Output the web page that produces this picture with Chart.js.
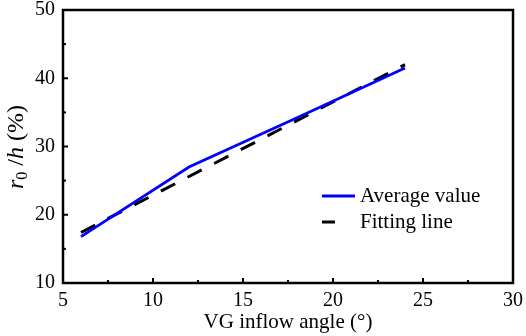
<!DOCTYPE html>
<html><head><meta charset="utf-8">
<script src="https://cdn.jsdelivr.net/npm/chart.js@4/dist/chart.umd.min.js"></script>
<style>html,body{margin:0;padding:0;background:#fff}#wrap{width:526px;height:336px}</style>
</head><body><div id="wrap"><canvas id="c" width="526" height="336"></canvas></div>
<script>
const angles = [6, 12, 18, 24];
const averageValue = [16.8, 27.0, 34.2, 41.5];
const fitAngles = [6, 24];
const fittingLine = [17.4, 42.0];
const xTicks = [5, 10, 15, 20, 25, 30];
const yTicks = [10, 20, 30, 40, 50];
const seriesLabels = ['Average value', 'Fitting line'];

const FONT = '"Liberation Serif", "Times New Roman", serif';

const decor = {
  id: 'decor',
  afterDatasetsDraw(chart) {
    const ctx = chart.ctx, a = chart.chartArea;
    const xs = chart.scales.x, ys = chart.scales.y;
    ctx.save();
    ctx.strokeStyle = '#000';
    ctx.lineWidth = 2.5;
    ctx.strokeRect(a.left, a.top, a.right - a.left, a.bottom - a.top);
    ctx.lineWidth = 2;
    for (let v = 5; v <= 30; v += 2.5) {
      const px = xs.getPixelForValue(v);
      const len = (v % 5 === 0) ? 5 : 3;
      ctx.beginPath(); ctx.moveTo(px, a.bottom); ctx.lineTo(px, a.bottom - len); ctx.stroke();
    }
    for (let v = 10; v <= 50; v += 5) {
      const py = ys.getPixelForValue(v);
      const len = (v % 10 === 0) ? 5 : 3;
      ctx.beginPath(); ctx.moveTo(a.left, py); ctx.lineTo(a.left + len, py); ctx.stroke();
    }
    const ds = chart.data.datasets;
    const lx = 322, rows = [196, 222];
    ds.forEach((d, i) => {
      const y = rows[i];
      ctx.strokeStyle = d.borderColor;
      ctx.lineWidth = 3;
      ctx.setLineDash([]);
      ctx.beginPath(); ctx.moveTo(lx, y); ctx.lineTo(i === 0 ? lx + 33 : lx + 13, y); ctx.stroke();
      ctx.fillStyle = '#000';
      ctx.font = '21px ' + FONT;
      ctx.textBaseline = 'middle';
      ctx.textAlign = 'left';
      ctx.fillText(d.label, 360, y);
    });
    ctx.translate(17, 147);
    ctx.rotate(-Math.PI / 2);
    const parts = [
      {t: 'r', f: 'italic 24px ' + FONT, dy: 0},
      {t: '0', f: '16px ' + FONT, dy: 6},
      {t: ' /', f: '24px ' + FONT, dy: 0},
      {t: 'h', f: 'italic 24px ' + FONT, dy: 0},
      {t: ' (%)', f: '24px ' + FONT, dy: 0}
    ];
    let w = 0;
    parts.forEach(p => { ctx.font = p.f; w += ctx.measureText(p.t).width; });
    let x = -w / 2;
    ctx.textBaseline = 'middle';
    ctx.fillStyle = '#000';
    parts.forEach(p => { ctx.font = p.f; ctx.fillText(p.t, x, p.dy); x += ctx.measureText(p.t).width; });
    ctx.restore();
  }
};

new Chart(document.getElementById('c'), {
  type: 'scatter',
  data: {
    datasets: [
      {label: seriesLabels[0], data: angles.map((x, i) => ({x, y: averageValue[i]})),
       showLine: true, borderColor: '#0000ff', borderWidth: 2.8, pointRadius: 0, tension: 0},
      {label: seriesLabels[1], data: fitAngles.map((x, i) => ({x, y: fittingLine[i]})),
       showLine: true, borderColor: '#000000', borderWidth: 3, borderDash: [16, 14], pointRadius: 0}
    ]
  },
  plugins: [decor],
  options: {
    responsive: false, animation: false,
    layout: {padding: {top: 0, right: 0, left: 0, bottom: 0}},
    plugins: {legend: {display: false}, tooltip: {enabled: false}},
    scales: {
      x: {
        type: 'linear', min: 5, max: 30,
        afterBuildTicks: s => { s.ticks = xTicks.map(v => ({value: v})); },
        afterFit: s => { s.height = 53; s.paddingRight = 13; s.paddingLeft = 0; },
        grid: {display: false, drawTicks: false},
        border: {display: false},
        ticks: {color: '#000', font: {family: FONT, size: 20}, padding: 6, maxRotation: 0},
        title: {display: true, text: 'VG inflow angle (°)', color: '#000', font: {family: FONT, size: 21}, padding: {top: 0, bottom: 1}}
      },
      y: {
        type: 'linear', min: 10, max: 50,
        afterBuildTicks: s => { s.ticks = yTicks.map(v => ({value: v})); },
        afterFit: s => { s.width = 63; s.paddingTop = 10; s.paddingBottom = 0; },
        grid: {display: false, drawTicks: false},
        border: {display: false},
        ticks: {color: '#000', font: {family: FONT, size: 20}, padding: 8}
      }
    }
  }
});
</script></body></html>
